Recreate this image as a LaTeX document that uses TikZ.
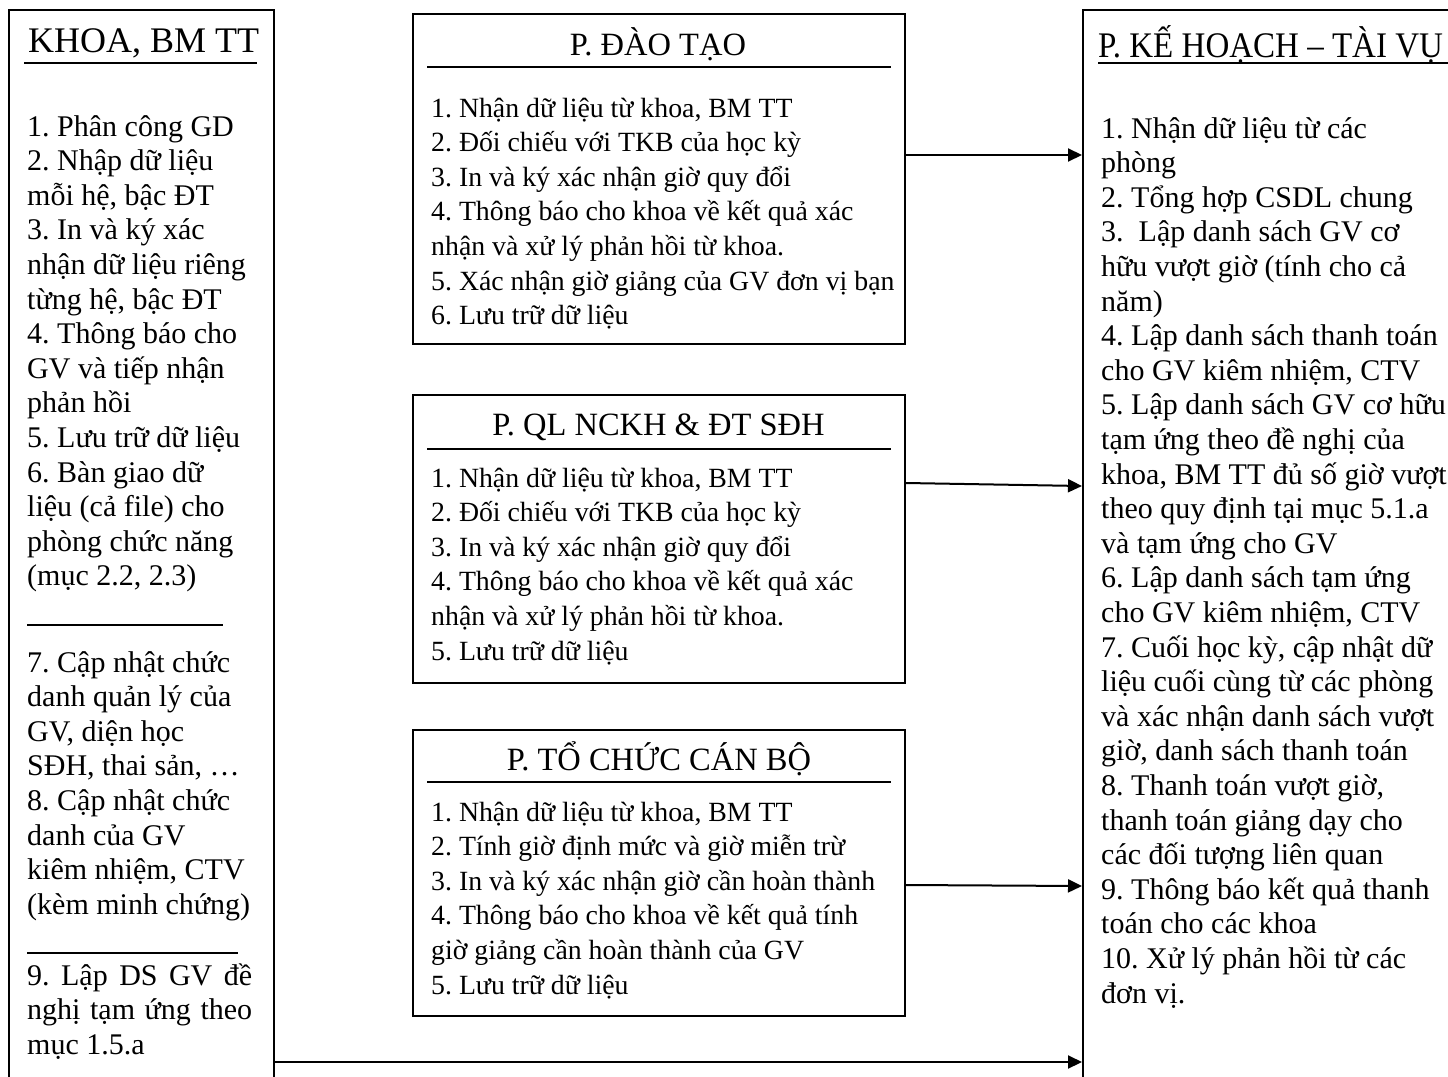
\documentclass[tikz,border=0pt]{standalone}
\usepackage{fontspec}
\usepackage{graphicx}
\setmainfont{Liberation Serif}
\usetikzlibrary{arrows.meta}
\newcommand{\bodyfont}{\fontsize{30}{34.6}\selectfont\lineskiplimit=-100pt\relax}
\newcommand{\midfont}{\fontsize{27.8}{34.6}\selectfont\lineskiplimit=-100pt\relax}
\newcommand{\blk}[2]{\parbox[t]{#1pt}{\frenchspacing\bodyfont\raggedright #2}}
\newcommand{\mblk}[2]{\parbox[t]{#1pt}{\frenchspacing\midfont\raggedright #2}}
\tikzset{
  box/.style={draw, line width=2pt, inner sep=0pt, anchor=north west},
  txt/.style={inner sep=0pt, anchor=base west},
  ttl/.style={inner sep=0pt, anchor=base, font=\fontsize{32.5}{36}\selectfont},
  rul/.style={line width=2pt},
  arr/.style={line width=2pt, -{Triangle[length=14pt,width=13pt]}}
}
\begin{document}
\begin{tikzpicture}[x=1pt, y=-1pt]
\useasboundingbox (0,0) rectangle (1448,1076);
% boxes
\node[box, minimum width=265pt, minimum height=1100pt] (khoa) at (8,9) {};
\node[box, minimum width=492pt, minimum height=330pt] (dt) at (412,13) {};
\node[box, minimum width=492pt, minimum height=288pt] (ql) at (412,394) {};
\node[box, minimum width=492pt, minimum height=286pt] (tc) at (412,729) {};
\node[box, minimum width=400pt, minimum height=1100pt] (kh) at (1082,9) {};
% titles
\node[txt, font=\fontsize{36}{40}\selectfont] (khoaT) at (28,52) {KHOA, BM TT};
\node[ttl] (dtT) at (658,55) {P. ĐÀO TẠO};
\node[ttl] (qlT) at (658.5,435) {P. QL NCKH \& ĐT SĐH};
\node[ttl] (tcT) at (659,770) {P. TỔ CHỨC CÁN BỘ};
\node[txt] (khT) at (1098,57) {\fontsize{36}{40}\selectfont\scalebox{0.917}[1]{P. KẾ HOẠCH – TÀI VỤ}};
% title rules
\draw[rul] (24,63) -- (257,63);
\draw[rul] (427,67) -- (891,67);
\draw[rul] (427,449) -- (891,449);
\draw[rul] (427,782) -- (891,782);
\draw[rul] (1098,63) -- (1460,63);
% left box body
\node[txt] (khoaA) at (27,136) {\blk{250}{1. Phân công GD\\
2. Nhập dữ liệu\\
mỗi hệ, bậc ĐT\\
3. In và ký xác\\
nhận dữ liệu riêng\\
từng hệ, bậc ĐT\\
4. Thông báo cho\\
GV và tiếp nhận\\
phản hồi\\
5. Lưu trữ dữ liệu\\
6. Bàn giao dữ\\
liệu (cả file) cho\\
phòng chức năng\\
(mục 2.2, 2.3)}};
\draw[line width=1.6pt] (27,625) -- (223,625);
\node[txt] (khoaB) at (27,672) {\blk{250}{7. Cập nhật chức\\
danh quản lý của\\
GV, diện học\\
SĐH, thai sản, …\\
8. Cập nhật chức\\
danh của GV\\
kiêm nhiệm, CTV\\
(kèm minh chứng)}};
\draw[line width=1.6pt] (27,953) -- (238,953);
\node[txt] (khoaC) at (27,985) {\blk{250}{\makebox[225pt][s]{9. Lập DS GV đề}\\
\makebox[225pt][s]{nghị tạm ứng theo}\\
mục 1.5.a}};
% middle bodies
\node[txt] (dtB) at (431,117) {\mblk{470}{1. Nhận dữ liệu từ khoa, BM TT\\
2. Đối chiếu với TKB của học kỳ\\
3. In và ký xác nhận giờ quy đổi\\
4. Thông báo cho khoa về kết quả xác\\
nhận và xử lý phản hồi từ khoa.\\
5. Xác nhận giờ giảng của GV đơn vị bạn\\
6. Lưu trữ dữ liệu}};
\node[txt] (qlB) at (431,487) {\mblk{470}{1. Nhận dữ liệu từ khoa, BM TT\\
2. Đối chiếu với TKB của học kỳ\\
3. In và ký xác nhận giờ quy đổi\\
4. Thông báo cho khoa về kết quả xác\\
nhận và xử lý phản hồi từ khoa.\\
5. Lưu trữ dữ liệu}};
\node[txt] (tcB) at (431,821) {\mblk{470}{1. Nhận dữ liệu từ khoa, BM TT\\
2. Tính giờ định mức và giờ miễn trừ\\
3. In và ký xác nhận giờ cần hoàn thành\\
4. Thông báo cho khoa về kết quả tính\\
giờ giảng cần hoàn thành của GV\\
5. Lưu trữ dữ liệu}};
% right body
\node[txt] (khB) at (1101,138) {\blk{400}{1. Nhận dữ liệu từ các\\
phòng\\
2. Tổng hợp CSDL chung\\
3.\ \ Lập danh sách GV cơ\\
hữu vượt giờ (tính cho cả\\
năm)\\
4. Lập danh sách thanh toán\\
cho GV kiêm nhiệm, CTV\\
5. Lập danh sách GV cơ hữu\\
tạm ứng theo đề nghị của\\
khoa, BM TT đủ số giờ vượt\\
theo quy định tại mục 5.1.a\\
và tạm ứng cho GV\\
6. Lập danh sách tạm ứng\\
cho GV kiêm nhiệm, CTV\\
7. Cuối học kỳ, cập nhật dữ\\
liệu cuối cùng từ các phòng\\
và xác nhận danh sách vượt\\
giờ, danh sách thanh toán\\
8. Thanh toán vượt giờ,\\
thanh toán giảng dạy cho\\
các đối tượng liên quan\\
9. Thông báo kết quả thanh\\
toán cho các khoa\\
10. Xử lý phản hồi từ các\\
đơn vị.}};
% connectors
\draw[arr] (dt.east |- 0,155) -- (kh.west |- 0,155);
\draw[arr] (ql.east |- 0,483) -- (kh.west |- 0,486);
\draw[arr] (tc.east |- 0,885) -- (kh.west |- 0,886);
\draw[arr] (khoa.east |- 0,1062) -- (kh.west |- 0,1062);
\end{tikzpicture}
\end{document}
